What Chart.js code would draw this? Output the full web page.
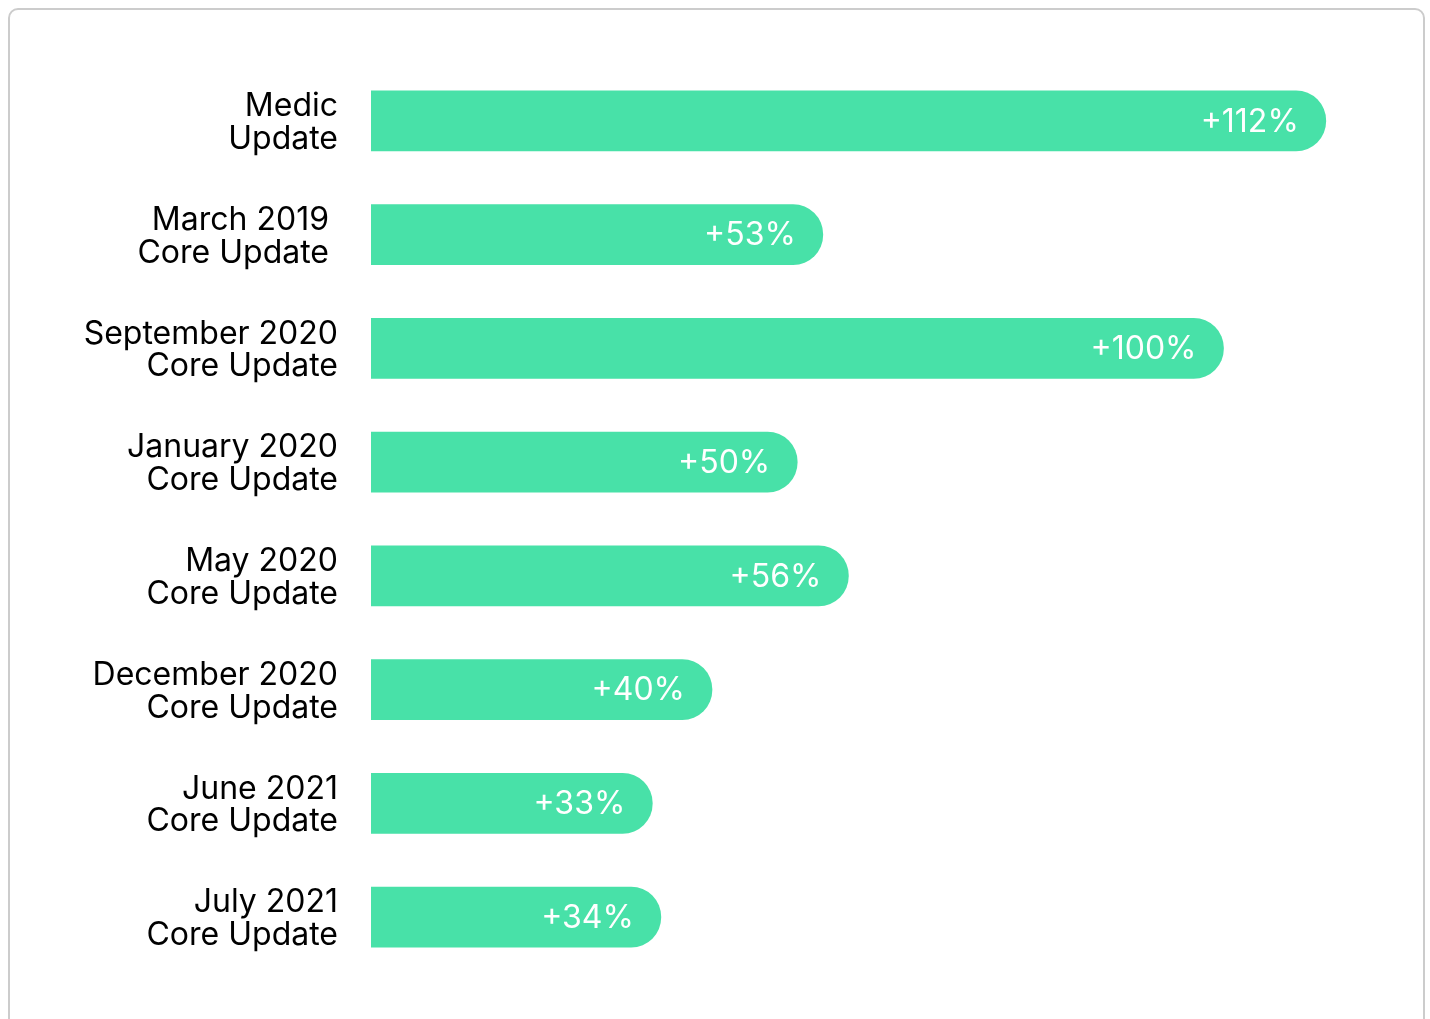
<!DOCTYPE html>
<html>
<head>
    <title>Core Update</title>
    <script src="https://cdn.jsdelivr.net/npm/chart.js"></script>
    <style>
        body { margin: 0; background: #fff; }
        .card {
            position: absolute;
            left: 8px;
            top: 8px;
            width: 1413px;
            height: 1100px;
            border: 2px solid #cccccc;
            border-radius: 10px;
        }
        .wrap {
            position: absolute;
            left: 0;
            top: 0;
            width: 1413px;
            height: 1000px;
        }
    </style>
</head>
<body>
    <div class="card">
        <div class="wrap"><canvas id="updatesChart"></canvas></div>
    </div>

    <script>
        // Dati
        const updateNames = [
            ['Medic', 'Update'],
            ['March 2019 ', 'Core Update '],
            ['September 2020', 'Core Update'],
            ['January 2020', 'Core Update'],
            ['May 2020', 'Core Update'],
            ['December 2020', 'Core Update'],
            ['June 2021', 'Core Update'],
            ['July 2021', 'Core Update']
        ];
        const increases = [112, 53, 100, 50, 56, 40, 33, 34];

        const barColor = '#48e1a8';
        const fontFamily = 'Inter, "Noto Sans", sans-serif';

        // Etichette dei valori dentro le barre
        const valueLabels = {
            id: 'valueLabels',
            afterDatasetsDraw(chart) {
                const ctx = chart.ctx;
                const meta = chart.getDatasetMeta(0);
                ctx.save();
                ctx.font = '32px ' + fontFamily;
                ctx.fillStyle = '#ffffff';
                ctx.textAlign = 'right';
                ctx.textBaseline = 'middle';
                meta.data.forEach((bar, i) => {
                    ctx.fillText('+' + increases[i] + '%', bar.x - 27, bar.y + 1);
                });
                ctx.restore();
            }
        };

        const ctx = document.getElementById('updatesChart').getContext('2d');
        const chart = new Chart(ctx, {
            type: 'bar',
            data: {
                labels: updateNames,
                datasets: [{
                    data: increases,
                    backgroundColor: barColor,
                    borderRadius: 30,
                    borderSkipped: 'start',
                    barThickness: 60
                }]
            },
            options: {
                indexAxis: 'y',
                responsive: true,
                maintainAspectRatio: false,
                animation: false,
                layout: {
                    padding: { top: 54, bottom: 36, left: 0, right: 29 }
                },
                plugins: {
                    legend: { display: false },
                    tooltip: { enabled: false }
                },
                scales: {
                    x: {
                        display: false,
                        min: 0,
                        max: 120
                    },
                    y: {
                        grid: { display: false, drawTicks: false },
                        border: { display: false },
                        ticks: {
                            color: '#000000',
                            padding: 33,
                            labelOffset: 2,
                            font: { family: fontFamily, size: 32, lineHeight: 1.02 }
                        },
                        afterFit(scale) {
                            scale.width = 361;
                            // niente spazio extra sopra/sotto per le etichette
                            scale.paddingTop = 0;
                            scale.paddingBottom = 0;
                        }
                    }
                }
            },
            plugins: [valueLabels]
        });
    </script>
</body>
</html>
